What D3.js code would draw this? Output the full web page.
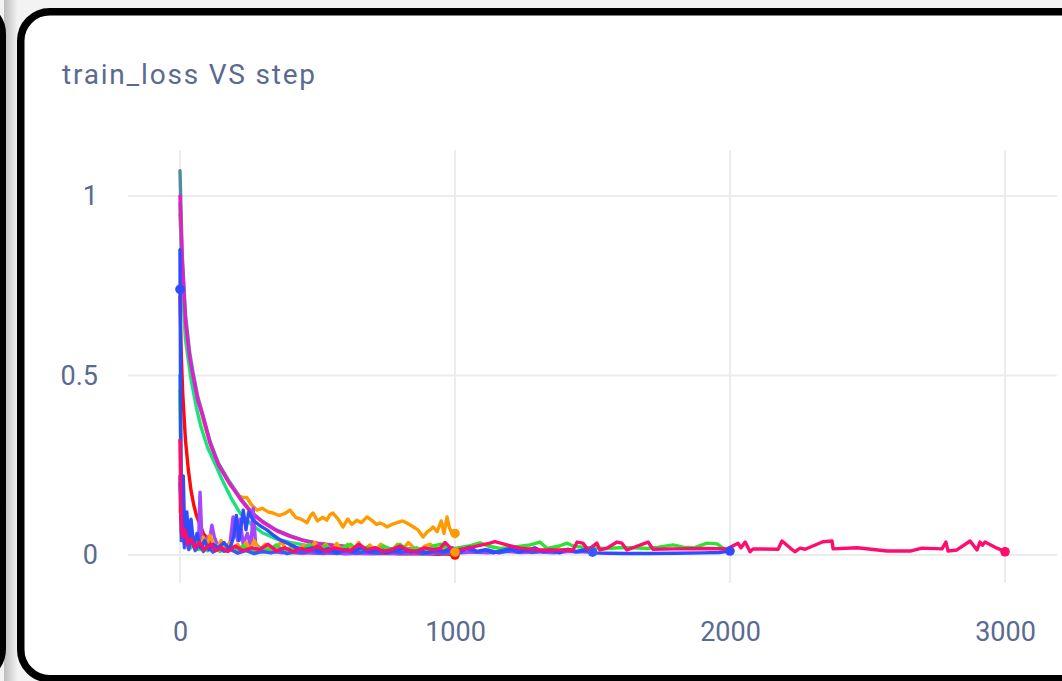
<!DOCTYPE html>
<html>
<head>
<meta charset="utf-8">
<script src="https://cdn.jsdelivr.net/npm/d3@7"></script>
<style>
  html, body { margin: 0; padding: 0; background: #f3f3f3; overflow: hidden; }
  svg { display: block; font-family: Roboto, "Noto Sans", sans-serif; }
</style>
</head>
<body>
<svg id="chart" width="1062" height="681"></svg>
<script>
// ---- chart text and ticks ----
const chartTitle = "train_loss VS step";
const xTicks = [0, 1000, 2000, 3000];
const yTicks = [0, 0.5, 1];

// ---- runs: [step, train_loss] ----
const tealRun = [[0,1.07],[8,0.84],[20,0.67],[35,0.565],[47,0.51],[65,0.44],[80,0.40],[110,0.315],[140,0.255],[175,0.21],[220,0.158],[262,0.118],[300,0.094],[350,0.07],[400,0.054],[450,0.041],[500,0.033],[560,0.027],[650,0.021],[800,0.017],[1000,0.015]];
const mintRun = [[0,0.98],[8,0.75],[20,0.60],[40,0.49],[60,0.41],[75,0.36],[100,0.30],[130,0.25],[153,0.21],[185,0.16],[218,0.117],[260,0.085],[300,0.062],[350,0.045],[400,0.035],[450,0.028],[500,0.024],[600,0.02],[700,0.018],[850,0.016],[1000,0.015]];
const magentaRun = [[0,1.0],[8,0.82],[20,0.65],[35,0.55],[47,0.50],[65,0.43],[80,0.395],[110,0.31],[140,0.25],[175,0.205],[220,0.155],[262,0.115],[300,0.092],[350,0.068],[400,0.052],[450,0.04],[500,0.032],[560,0.026],[650,0.02],[800,0.016],[1000,0.014]];
const redRun = [[0,0.72],[5,0.55],[10,0.45],[20,0.32],[30,0.24],[40,0.18],[50,0.14],[60,0.11],[75,0.08],[85,0.06],[100,0.045],[120,0.032],[150,0.025],[180,0.02],[210,0.016],[240,0.014],[270,0.012],[300,0.01],[340,0.009],[380,0.008],[420,0.007],[460,0.007],[500,0.006],[540,0.006],[580,0.005],[620,0.005],[660,0.005],[700,0.004],[740,0.004],[780,0.004],[820,0.003],[860,0.003],[900,0.003],[940,0.002],[970,0.003],[1000,0.0]];
const cyanRun = [[0,0.5],[5,0.2],[10,0.08],[18,0.12],[25,0.04],[35,0.07],[45,0.03],[60,0.05],[80,0.02],[100,0.03],[130,0.015],[160,0.025],[200,0.01],[250,0.015],[300,0.008],[350,0.012],[400,0.006],[450,0.01],[500,0.005],[600,0.008],[700,0.005],[800,0.007],[900,0.004],[1000,0.005]];
const purpleRun = [[0,0.2],[5,0.06],[10,0.1],[16,0.03],[22,0.07],[30,0.02],[40,0.05],[50,0.03],[60,0.04],[67,0.02],[73,0.175],[80,0.04],[90,0.03],[100,0.05],[108,0.045],[116,0.083],[125,0.05],[135,0.03],[150,0.025],[165,0.02],[180,0.02],[193,0.106],[200,0.07],[210,0.04],[218,0.1],[230,0.03],[245,0.06],[258,0.02],[266,0.13],[275,0.03],[290,0.02],[310,0.012],[340,0.01],[370,0.006],[400,0.008],[440,0.005],[480,0.007],[520,0.004],[560,0.006],[600,0.003],[650,0.005],[700,0.004],[750,0.006],[800,0.003],[850,0.005],[900,0.004],[950,0.006],[1000,0.005],[1060,0.008],[1120,0.006],[1180,0.01],[1240,0.007],[1300,0.009],[1360,0.006],[1420,0.01],[1480,0.008]];
const orangeLowRun = [[0,0.12],[4,0.18],[8,0.06],[14,0.1],[20,0.04],[28,0.07],[36,0.03],[45,0.05],[55,0.02],[65,0.045],[75,0.015],[85,0.05],[95,0.02],[109,0.055],[120,0.033],[135,0.02],[150,0.04],[165,0.015],[180,0.035],[195,0.012],[210,0.03],[225,0.01],[240,0.035],[255,0.015],[270,0.04],[290,0.012],[310,0.03],[330,0.01],[350,0.025],[370,0.035],[390,0.012],[410,0.03],[430,0.01],[450,0.028],[470,0.012],[490,0.035],[510,0.015],[530,0.03],[550,0.01],[570,0.032],[590,0.012],[610,0.03],[630,0.015],[650,0.035],[670,0.01],[690,0.028],[710,0.012],[730,0.03],[750,0.02],[770,0.01],[790,0.03],[810,0.015],[830,0.035],[850,0.02],[870,0.01],[890,0.025],[910,0.03],[930,0.015],[950,0.012],[970,0.025],[990,0.01],[1000,0.008]];
const orangeHighRun = [[0,0.95],[8,0.8],[20,0.64],[35,0.55],[50,0.48],[70,0.42],[90,0.36],[110,0.31],[130,0.27],[150,0.24],[165,0.22],[182,0.195],[200,0.18],[215,0.165],[228,0.16],[243,0.16],[260,0.14],[280,0.125],[300,0.13],[320,0.12],[338,0.117],[360,0.11],[380,0.115],[400,0.125],[420,0.105],[440,0.1],[462,0.09],[475,0.11],[484,0.117],[500,0.095],[520,0.105],[534,0.097],[545,0.112],[556,0.117],[575,0.1],[593,0.078],[610,0.1],[625,0.085],[643,0.097],[660,0.09],[680,0.106],[700,0.095],[715,0.085],[727,0.089],[740,0.085],[752,0.078],[770,0.085],[790,0.09],[810,0.095],[825,0.089],[845,0.08],[865,0.07],[884,0.05],[900,0.065],[910,0.07],[920,0.078],[935,0.065],[950,0.095],[960,0.06],[971,0.106],[980,0.075],[989,0.061],[1000,0.06]];
const greenRun = [[0,0.46],[4,0.12],[9,0.05],[15,0.09],[22,0.03],[30,0.06],[40,0.02],[52,0.04],[65,0.015],[80,0.03],[100,0.012],[120,0.025],[145,0.01],[170,0.02],[200,0.012],[230,0.025],[260,0.01],[290,0.02],[320,0.012],[350,0.028],[380,0.01],[410,0.022],[440,0.012],[470,0.03],[500,0.015],[530,0.025],[560,0.01],[590,0.02],[620,0.03],[650,0.012],[680,0.022],[710,0.01],[740,0.025],[770,0.015],[800,0.03],[830,0.012],[860,0.02],[890,0.01],[920,0.025],[950,0.03],[980,0.015],[1010,0.02],[1050,0.025],[1091,0.034],[1120,0.025],[1164,0.018],[1210,0.022],[1273,0.028],[1309,0.036],[1335,0.018],[1380,0.025],[1407,0.033],[1430,0.025],[1480,0.02],[1550,0.018],[1600,0.02],[1650,0.02],[1698,0.018],[1740,0.022],[1793,0.028],[1830,0.022],[1870,0.02],[1916,0.033],[1953,0.031],[2000,0.005]];
const blueShortRun = [[0,0.22],[5,0.04],[10,0.15],[16,0.02],[24,0.08],[32,0.015],[42,0.05],[55,0.012],[70,0.03],[85,0.01],[100,0.025],[120,0.008],[140,0.02],[160,0.01],[185,0.015],[210,0.005],[240,0.012],[270,0.004],[300,0.01],[330,0.006],[360,0.012],[390,0.004],[420,0.01],[450,0.007],[480,0.013],[510,0.005],[540,0.01],[570,0.004],[600,0.012],[640,0.006],[680,0.01],[720,0.005],[760,0.011],[800,0.006],[840,0.012],[880,0.004],[920,0.009],[960,0.006],[1000,0.012],[1040,0.018],[1080,0.008],[1120,0.014],[1160,0.006],[1200,0.012],[1240,0.016],[1280,0.007],[1320,0.013],[1360,0.009],[1400,0.015],[1440,0.008],[1480,0.012],[1500,0.008]];
const blueRun = [[0,0.85],[3,0.3],[7,0.05],[12,0.22],[18,0.03],[25,0.12],[32,0.03],[40,0.1],[50,0.025],[62,0.06],[75,0.02],[90,0.04],[105,0.015],[120,0.03],[140,0.02],[160,0.035],[180,0.015],[195,0.05],[205,0.11],[215,0.04],[230,0.125],[240,0.07],[250,0.12],[266,0.097],[290,0.082],[316,0.07],[340,0.055],[364,0.042],[390,0.033],[420,0.022],[450,0.015],[480,0.02],[510,0.01],[540,0.018],[570,0.008],[600,0.015],[630,0.01],[660,0.02],[690,0.008],[720,0.014],[750,0.006],[780,0.012],[810,0.018],[840,0.008],[870,0.012],[900,0.006],[930,0.015],[960,0.01],[990,0.02],[1020,0.008],[1050,0.022],[1080,0.01],[1110,0.015],[1140,0.006],[1170,0.012],[1200,0.018],[1230,0.008],[1260,0.013],[1290,0.02],[1320,0.009],[1350,0.014],[1380,0.006],[1410,0.016],[1440,0.01],[1470,0.014],[1500,0.006],[1560,0.005],[1620,0.004],[1700,0.004],[1800,0.005],[1900,0.006],[1960,0.007],[2000,0.011]];
const pinkRun = [[0,0.32],[4,0.1],[10,0.05],[18,0.07],[28,0.03],[40,0.045],[55,0.02],[70,0.035],[90,0.015],[110,0.03],[130,0.012],[150,0.02],[175,0.01],[200,0.025],[230,0.012],[260,0.02],[290,0.015],[320,0.03],[350,0.012],[380,0.02],[410,0.01],[440,0.018],[470,0.012],[500,0.025],[530,0.01],[560,0.02],[590,0.015],[620,0.012],[650,0.03],[680,0.015],[710,0.02],[740,0.01],[770,0.015],[800,0.025],[830,0.012],[860,0.01],[890,0.02],[920,0.015],[945,0.018],[964,0.035],[993,0.012],[1050,0.02],[1127,0.033],[1145,0.037],[1189,0.028],[1236,0.019],[1309,0.014],[1429,0.014],[1444,0.036],[1465,0.033],[1484,0.014],[1516,0.033],[1527,0.014],[1553,0.019],[1589,0.036],[1607,0.033],[1625,0.014],[1702,0.036],[1720,0.016],[1793,0.017],[1916,0.018],[1989,0.017],[2029,0.033],[2040,0.02],[2055,0.036],[2062,0.026],[2073,0.009],[2084,0.017],[2175,0.016],[2189,0.039],[2218,0.02],[2236,0.009],[2255,0.019],[2273,0.016],[2338,0.037],[2371,0.039],[2375,0.017],[2462,0.02],[2571,0.011],[2655,0.011],[2698,0.019],[2771,0.017],[2785,0.036],[2793,0.011],[2825,0.014],[2873,0.039],[2898,0.014],[2909,0.036],[2918,0.027],[2927,0.036],[2971,0.019],[3000,0.009]];
const singlePointRun = [[0,0.74]];

// drawing order, bottom to top
const runs = [
  { name: "cyan",        data: cyanRun,        color: "#1ab4cf", marker: false },
  { name: "orange-high", data: orangeHighRun,  color: "#ff9a00", marker: true  },
  { name: "teal",        data: tealRun,        color: "#4d8c9f", marker: false },
  { name: "mint",        data: mintRun,        color: "#17e37c", marker: false },
  { name: "magenta",     data: magentaRun,     color: "#e41dcc", marker: false },
  { name: "red",         data: redRun,         color: "#ff0a0a", marker: true  },
  { name: "purple",      data: purpleRun,      color: "#a547ff", marker: false },
  { name: "orange-low",  data: orangeLowRun,   color: "#ff9a00", marker: true  },
  { name: "green",       data: greenRun,       color: "#2ee22e", marker: false },
  { name: "blue-short",  data: blueShortRun,   color: "#3a58ff", marker: true  },
  { name: "blue",        data: blueRun,        color: "#2f4cff", marker: true  },
  { name: "pink",        data: pinkRun,        color: "#ff0d6e", marker: true  },
  { name: "single",      data: singlePointRun, color: "#2f4cff", marker: true  }
];

const W = 1062, H = 681;
const textColor = "#5a6a90";
const svg = d3.select("#chart");

// page backdrop, neighbouring card edge and shadow
svg.append("rect").attr("width", W).attr("height", H).attr("fill", "#f3f3f3");
const defs = svg.append("defs");
const grad = defs.append("linearGradient").attr("id", "gap-shade")
  .attr("x1", "0").attr("x2", "1").attr("y1", "0").attr("y2", "0");
grad.append("stop").attr("offset", "0").attr("stop-color", "#bdbdbd");
grad.append("stop").attr("offset", "1").attr("stop-color", "#f4f4f4");
svg.append("rect").attr("x", 4).attr("y", 0).attr("width", 14).attr("height", H)
  .attr("fill", "url(#gap-shade)");
svg.append("rect").attr("x", -300).attr("y", 4).attr("width", 302.5).attr("height", 675)
  .attr("rx", 30).attr("fill", "none").attr("stroke", "#000").attr("stroke-width", 7);

// main card
svg.append("rect").attr("x", 20.75).attr("y", 11.75).attr("width", 1100).attr("height", 667)
  .attr("rx", 29).attr("fill", "#fff").attr("stroke", "#000").attr("stroke-width", 7.5);

// title
svg.append("text").attr("x", 62).attr("y", 84)
  .attr("fill", textColor).attr("font-size", 28).attr("letter-spacing", 1.8)
  .text(chartTitle);

// scales
const x = d3.scaleLinear().domain([-189, 3189]).range([128, 1057]);
const y = d3.scaleLinear().domain([-0.078, 1.128]).range([583, 150]);

// grid
const grid = svg.append("g").attr("stroke", "#ececec").attr("stroke-width", 2);
grid.selectAll("line.v").data(xTicks).join("line").attr("class", "v")
  .attr("x1", d => x(d)).attr("x2", d => x(d)).attr("y1", y.range()[1]).attr("y2", y.range()[0]);
grid.selectAll("line.h").data(yTicks).join("line").attr("class", "h")
  .attr("x1", x.range()[0]).attr("x2", x.range()[1]).attr("y1", d => y(d)).attr("y2", d => y(d));

// axes (labels only)
const tickFont = g => {
  g.select(".domain").remove();
  g.selectAll(".tick line").remove();
  g.selectAll("text").attr("fill", textColor).attr("font-size", 27)
    .attr("font-family", "Roboto, 'Noto Sans', sans-serif");
};
svg.append("g").attr("transform", `translate(${x.range()[0]},0)`)
  .call(d3.axisLeft(y).tickValues(yTicks).tickSize(0).tickPadding(30).tickFormat(d3.format("~g")))
  .call(tickFont);
svg.append("g").attr("transform", `translate(0,${y.range()[0]})`)
  .call(d3.axisBottom(x).tickValues(xTicks).tickSize(0).tickPadding(39).tickFormat(d3.format("d")))
  .call(tickFont);

// lines
const line = d3.line().x(d => x(d[0])).y(d => y(d[1]));
const plot = svg.append("g");
plot.selectAll("path.run").data(runs.filter(r => r.data.length > 1)).join("path")
  .attr("class", "run")
  .attr("d", r => line(r.data))
  .attr("fill", "none")
  .attr("stroke", r => r.color)
  .attr("stroke-width", 3.4)
  .attr("stroke-linejoin", "round")
  .attr("stroke-linecap", "round");

// last-point markers
plot.selectAll("circle.end").data(runs.filter(r => r.marker)).join("circle")
  .attr("class", "end")
  .attr("cx", r => x(r.data[r.data.length - 1][0]))
  .attr("cy", r => y(r.data[r.data.length - 1][1]))
  .attr("r", 4.8)
  .attr("fill", r => r.color);
</script>
</body>
</html>
